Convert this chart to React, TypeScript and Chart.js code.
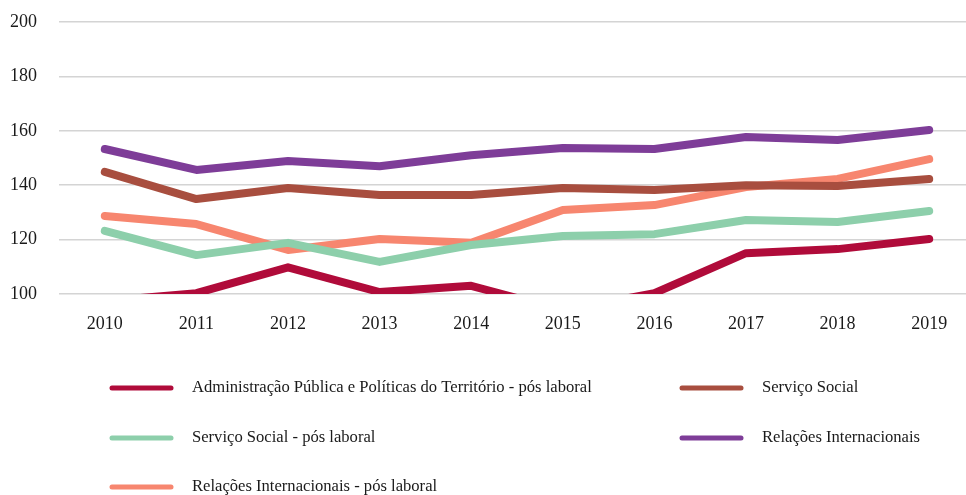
import React, { useEffect, useRef } from "react";
import { Chart, registerables } from "chart.js";

Chart.register(...registerables);

const years = ["2010", "2011", "2012", "2013", "2014", "2015", "2016", "2017", "2018", "2019"];

const adminPosLaboral = [97.4, 100.3, 109.8, 100.7, 103, 94, 100.3, 115, 116.5, 120.2];
const servicoSocial = [144.9, 134.9, 139, 136.4, 136.4, 139, 138.2, 140, 139.7, 142.3];
const servicoSocialPosLaboral = [123.2, 114.3, 118.8, 111.8, 118, 121.3, 122, 127.2, 126.5, 130.5];
const relacoesInternacionais = [153.3, 145.6, 148.9, 147, 151, 153.7, 153.3, 157.7, 156.6, 160.3];
const relacoesPosLaboral = [128.7, 125.7, 116.2, 120.2, 118.8, 130.9, 132.7, 139.3, 142.3, 149.6];

const seriesNames = [
  "Administração Pública e Políticas do Território - pós laboral",
  "Serviço Social",
  "Serviço Social - pós laboral",
  "Relações Internacionais",
  "Relações Internacionais - pós laboral",
];
const seriesColors = ["#B00B3A", "#A84E3F", "#8DCFAB", "#7E3D98", "#F7866F"];
const seriesData = [adminPosLaboral, servicoSocial, servicoSocialPosLaboral, relacoesInternacionais, relacoesPosLaboral];

const FONT = '"Liberation Serif", "DejaVu Serif", serif';

const legendPlugin = {
  id: "gridLegend",
  afterDraw(chart: any) {
    const ctx = chart.ctx;
    const cols = [110, 680];
    const rows = [388, 438, 487];
    ctx.save();
    chart.data.datasets.forEach((ds: any, i: number) => {
      const x = cols[i % 2];
      const y = rows[Math.floor(i / 2)];
      ctx.strokeStyle = ds.borderColor;
      ctx.lineWidth = 5;
      ctx.lineCap = "round";
      ctx.beginPath();
      ctx.moveTo(x + 2, y);
      ctx.lineTo(x + 61, y);
      ctx.stroke();
      ctx.fillStyle = "#1a1a1a";
      ctx.font = `16.6px ${FONT}`;
      ctx.textBaseline = "middle";
      ctx.textAlign = "left";
      ctx.fillText(ds.label, x + 82, y);
    });
    ctx.restore();
  },
};

export default function App() {
  const canvasRef = useRef<HTMLCanvasElement | null>(null);

  useEffect(() => {
    if (!canvasRef.current) return;
    const chart = new Chart(canvasRef.current, {
      type: "line",
      data: {
        labels: years,
        datasets: seriesData.map((d, i) => ({
          label: seriesNames[i],
          data: d,
          borderColor: seriesColors[i],
          backgroundColor: seriesColors[i],
          borderWidth: 8,
          borderCapStyle: "round" as const,
          borderJoinStyle: "round" as const,
          pointRadius: 0,
          pointHoverRadius: 0,
          tension: 0,
          clip: 0,
        })),
      },
      options: {
        animation: false,
        responsive: false,
        maintainAspectRatio: false,
        devicePixelRatio: 1,
        layout: { padding: { left: 10, right: 0, top: 22, bottom: 0 } },
        plugins: {
          legend: { display: false },
          tooltip: { enabled: false },
        },
        scales: {
          x: {
            offset: true,
            grid: { display: false, drawTicks: false },
            border: { display: false },
            ticks: {
              color: "#1a1a1a",
              font: { family: FONT, size: 18 },
              padding: 19,
              maxRotation: 0,
            },
            afterFit: (s: any) => {
              s.height = 495 - 22 - 272;
            },
          },
          y: {
            min: 100,
            max: 200,
            grid: { color: "#d4d4d4", lineWidth: 1.5, drawTicks: false },
            border: { display: false },
            ticks: {
              stepSize: 20,
              color: "#1a1a1a",
              font: { family: FONT, size: 18 },
              padding: 0,
              crossAlign: "far" as const,
            },
            afterFit: (s: any) => {
              s.width = 49;
            },
          },
        },
      },
      plugins: [legendPlugin],
    });
    return () => chart.destroy();
  }, []);

  return (
    <div style={{ position: "fixed", left: 0, top: 0, width: 966, height: 495, overflow: "hidden", background: "#fff" }}>
      <canvas ref={canvasRef} width={975} height={495} style={{ width: 975, height: 495, display: "block" }} />
    </div>
  );
}
